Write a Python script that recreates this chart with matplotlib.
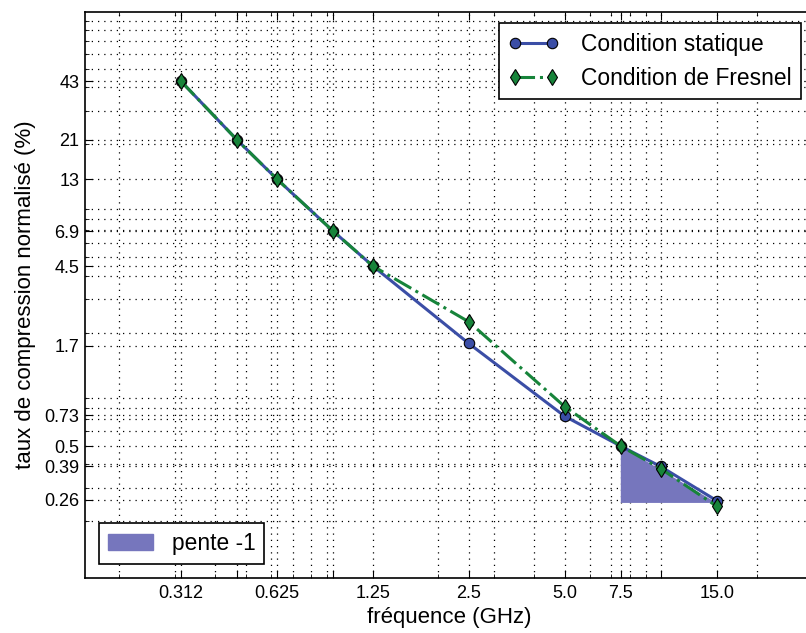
"""Taux de compression normalisé vs fréquence (log-log)."""

import matplotlib

matplotlib.use("Agg")

import matplotlib.pyplot as plt
from matplotlib.patches import Patch

# data
freq_ghz = [0.312, 0.468, 0.625, 0.937, 1.25, 2.5, 5.0, 7.5, 10.0, 15.0]
statique = [43, 21, 13, 6.9, 4.5, 1.75, 0.72, 0.5, 0.39, 0.257]
fresnel = [43, 21, 13, 6.9, 4.5, 2.28, 0.81, 0.5, 0.38, 0.24]

xtick_labels = ["0.312", "", "0.625", "", "1.25", "2.5", "5.0", "7.5", "", "15.0"]
ytick_values = [43, 21, 13, 6.9, 4.5, 1.7, 0.73, 0.5, 0.39, 0.26]
ytick_labels = ["43", "21", "13", "6.9", "4.5", "1.7", "0.73", "0.5", "0.39", "0.26"]

# slope -1 triangle
pente_x = [7.5, 15.0, 7.5]
pente_y = [0.5, 0.25, 0.25]

BLUE = "#3b4ea6"
GREEN = "#17843a"
FILL = "#7676bd"

plt.rcParams["font.family"] = ["Liberation Sans", "DejaVu Sans"]

fig = plt.figure(figsize=(8.06, 6.33), dpi=100)
# right edge of the axes falls just outside the picture, as in the reference
ax = fig.add_axes([85 / 806, 55 / 633, 727.6 / 806, 566 / 633])

ax.fill(pente_x, pente_y, color=FILL, lw=0, zorder=2)
ax.plot(freq_ghz, statique, "-o", color=BLUE, lw=2.2, ms=7.5,
        mfc=BLUE, mec="k", mew=0.8, zorder=3, label="Condition statique")
ax.plot(freq_ghz, fresnel, "-.d", color=GREEN, lw=2.2, ms=8.5,
        mfc=GREEN, mec="k", mew=0.8, zorder=4, label="Condition de Fresnel")

ax.set_xscale("log")
ax.set_yscale("log")
ax.set_xlim(0.156, 30)
ax.set_ylim(0.1, 100)

ax.set_xticks(freq_ghz)
ax.set_xticklabels(xtick_labels)
ax.set_yticks(ytick_values)
ax.set_yticklabels(ytick_labels)
ax.xaxis.set_minor_formatter(matplotlib.ticker.NullFormatter())
ax.yaxis.set_minor_formatter(matplotlib.ticker.NullFormatter())

ax.tick_params(which="both", direction="in", top=True, right=True,
               labelsize=13, colors="k")
ax.tick_params(which="major", length=6, width=0.8)
ax.tick_params(which="minor", length=3, width=0.6)
ax.tick_params(axis="x", which="major", pad=5)
ax.tick_params(axis="y", which="major", pad=4)

ax.grid(True, which="both", color="k", linestyle=(0, (1, 4)), linewidth=0.9)
ax.set_axisbelow(True)

for side in ax.spines.values():
    side.set_linewidth(1.2)

ax.set_xlabel("fréquence (GHz)", fontsize=16, labelpad=4)
ax.set_ylabel("taux de compression normalisé (%)", fontsize=16, labelpad=6)

leg1 = ax.legend(loc="upper right", fontsize=16.4, numpoints=2, fancybox=False,
                 framealpha=1, edgecolor="k", borderaxespad=0.5,
                 handlelength=2.2, handletextpad=1.0)
leg1.get_frame().set_linewidth(1.2)
ax.add_artist(leg1)

leg2 = ax.legend(handles=[Patch(facecolor=FILL, edgecolor=FILL, label="pente -1")],
                 loc="lower left", fontsize=16.4, fancybox=False, framealpha=1,
                 edgecolor="k", borderaxespad=0.6)
leg2.get_frame().set_linewidth(1.2)

fig.savefig("out.png", dpi=100)
plt.close(fig)
